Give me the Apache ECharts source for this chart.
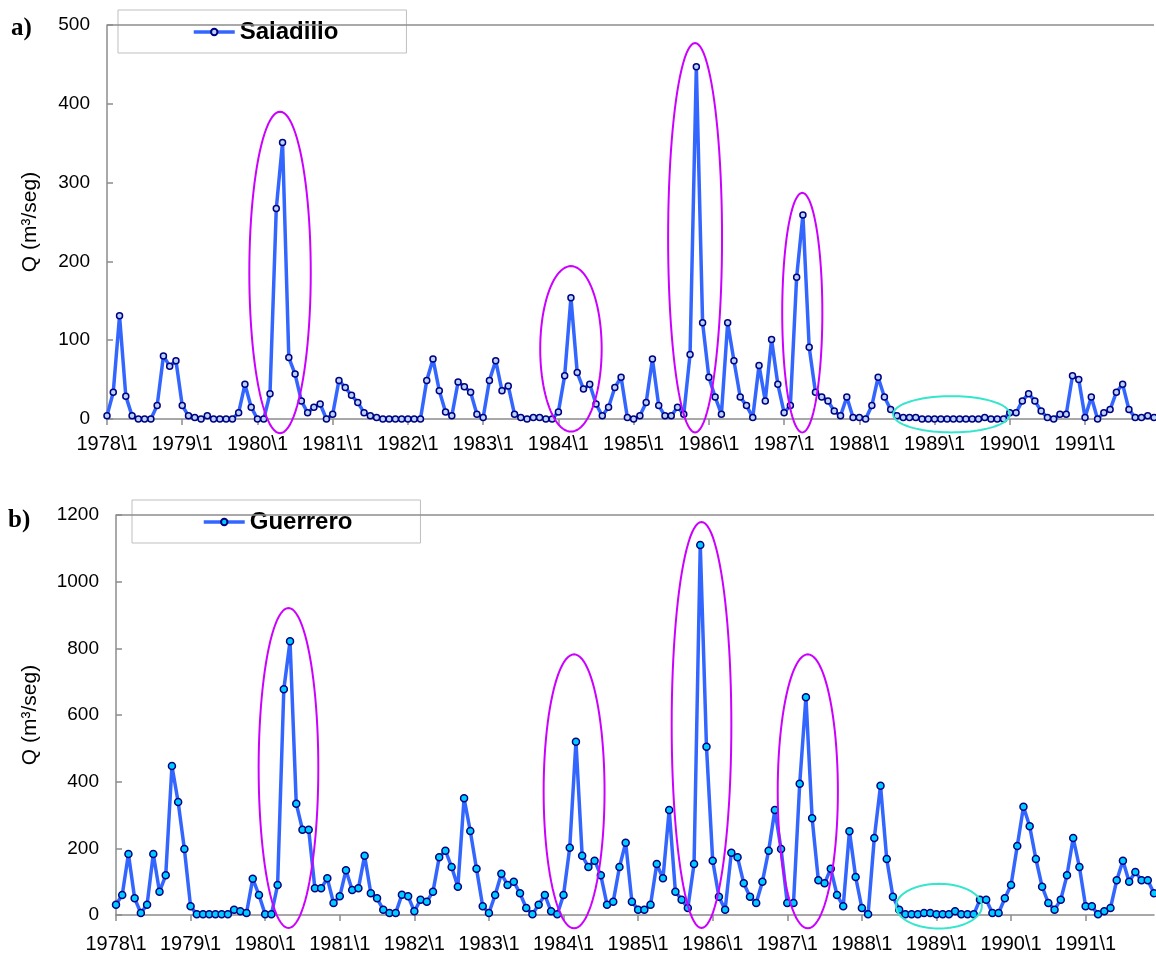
<!DOCTYPE html>
<html>
<head>
<meta charset="utf-8">
<script src="https://cdn.jsdelivr.net/npm/echarts@6/dist/echarts.min.js"></script>
<style>
html, body { margin: 0; padding: 0; background: #fff; }
#chart { width: 1156px; height: 960px; }
</style>
</head>
<body>
<div id="chart"></div>
<script>
// etiquetas de eje (una por año, cada 12 meses)
var yearLabels = ['1978\\1', '1979\\1', '1980\\1', '1981\\1', '1982\\1', '1983\\1', '1984\\1',
	'1985\\1', '1986\\1', '1987\\1', '1988\\1', '1989\\1', '1990\\1', '1991\\1'];

// caudal mensual Saladillo (m3/seg), ene-1978 .. dic-1991
var saladillo = [
	4, 34, 131, 29, 4, 0, 0, 0, 17, 80, 67, 74,
	17, 4, 2, 0, 4, 0, 0, 0, 0, 8, 44, 15,
	0, 0, 32, 267, 351, 78, 57, 23, 8, 15, 19, 0,
	6, 49, 40, 30, 21, 8, 4, 2, 0, 0, 0, 0,
	0, 0, 0, 49, 76, 36, 9, 4, 47, 41, 34, 6,
	2, 49, 74, 36, 42, 6, 2, 0, 2, 2, 0, 0,
	9, 55, 154, 59, 38, 44, 19, 4, 15, 40, 53, 2,
	0, 4, 21, 76, 17, 4, 4, 15, 6, 82, 447, 122,
	53, 28, 6, 122, 74, 28, 17, 2, 68, 23, 101, 44,
	8, 17, 180, 259, 91, 34, 28, 23, 10, 4, 28, 2,
	2, 0, 17, 53, 28, 12, 4, 2, 2, 2, 0, 0,
	0, 0, 0, 0, 0, 0, 0, 0, 2, 0, 0, 0,
	8, 8, 23, 32, 23, 10, 2, 0, 6, 6, 55, 50,
	2, 28, 0, 8, 12, 34, 44, 12, 2, 2, 4, 2
];

// caudal mensual Guerrero (m3/seg)
var guerrero = [
	31, 60, 183, 50, 6, 31, 183, 70, 119, 447, 339, 198,
	26, 2, 2, 2, 2, 2, 2, 16, 11, 6, 109, 60,
	2, 2, 90, 677, 821, 334, 256, 256, 80, 80, 110, 36,
	56, 134, 75, 80, 178, 65, 50, 16, 6, 6, 61, 56,
	11, 46, 40, 70, 173, 193, 144, 85, 350, 252, 139, 26,
	6, 60, 124, 90, 100, 65, 21, 2, 31, 60, 11, 2,
	60, 202, 520, 178, 144, 163, 119, 31, 40, 144, 217, 40,
	16, 16, 31, 153, 110, 315, 70, 46, 21, 153, 1110, 505,
	163, 55, 16, 187, 173, 95, 55, 36, 100, 193, 315, 198,
	36, 36, 394, 653, 290, 104, 95, 139, 60, 26, 251, 114,
	21, 2, 231, 388, 168, 55, 16, 2, 2, 2, 6, 6,
	2, 2, 2, 11, 2, 2, 2, 46, 46, 6, 6, 50,
	90, 207, 325, 266, 168, 85, 36, 16, 46, 119, 231, 144,
	26, 26, 2, 11, 21, 104, 163, 100, 129, 104, 104, 65
];

// elipses de resalte: [mes centro, valor centro, semi-ancho (meses), semi-alto (valor)]
var peaksA = [[27.6, 186, 4.9, 204], [74.0, 89, 4.9, 105], [93.8, 230, 4.3, 247], [110.9, 135, 3.2, 152]];
var dryA = [[134.7, 6, 9.3, 23]];
var peaksB = [[27.75, 441, 4.8, 480], [73.7, 371, 4.9, 411], [94.2, 570, 4.8, 609], [111.3, 371, 4.84, 411]];
var dryB = [[132.4, 26.5, 6.9, 67]];

var font = 'Liberation Sans, Arial, sans-serif';

function toPairs(arr) {
	var out = [];
	for (var i = 0; i < arr.length; i++) {
		out.push([i, arr[i]]);
	}
	return out;
}

// dibuja una elipse en coordenadas de datos
function ellipseItem(params, api) {
	var c = api.coord([api.value(0), api.value(1)]);
	var s = api.size([api.value(2), api.value(3)]);
	var pts = [];
	for (var k = 0; k < 96; k++) {
		var a = k / 96 * Math.PI * 2;
		pts.push([c[0] + s[0] * Math.cos(a), c[1] + s[1] * Math.sin(a)]);
	}
	return {
		type: 'polygon',
		shape: { points: pts },
		style: { fill: null, stroke: api.visual('color'), lineWidth: 2 }
	};
}

function xAxisFor(gridIndex, margin) {
	return {
		gridIndex: gridIndex,
		type: 'value',
		min: 0,
		max: 167,
		interval: 12,
		axisLine: { lineStyle: { color: '#8c8c8c', width: 1.5 } },
		axisTick: { inside: false, length: 6, lineStyle: { color: '#8c8c8c', width: 1.5 } },
		splitLine: { show: false },
		axisLabel: {
			margin: margin,
			color: '#000',
			fontSize: 20,
			fontFamily: font,
			showMaxLabel: false,
			formatter: function (v) {
				return v % 12 === 0 ? yearLabels[v / 12] : '';
			}
		}
	};
}

function yAxisFor(gridIndex, max, interval, nameGap) {
	return {
		gridIndex: gridIndex,
		type: 'value',
		min: 0,
		max: max,
		interval: interval,
		name: 'Q (m³/seg)',
		nameLocation: 'middle',
		nameGap: nameGap,
		nameTextStyle: { color: '#000', fontSize: 21, fontFamily: font },
		axisLine: { show: true, lineStyle: { color: '#8c8c8c', width: 1.5 } },
		axisTick: { show: true, inside: true, length: 6, lineStyle: { color: '#8c8c8c', width: 1.5 } },
		splitLine: { show: false },
		axisLabel: {
			margin: 17, color: '#000', fontSize: 19, fontFamily: font,
			formatter: function (v) { return String(v); }
		}
	};
}

function lineSeries(name, idx, data, fill, size, max) {
	return {
		name: name,
		type: 'line',
		xAxisIndex: idx,
		yAxisIndex: idx,
		data: toPairs(data),
		symbol: 'circle',
		symbolSize: size,
		showAllSymbol: true,
		lineStyle: { color: '#3366ff', width: 3.5 },
		itemStyle: { color: fill, borderColor: '#000080', borderWidth: 1.5 },
		z: 2,
		// borde superior del área de trazado
		markLine: {
			silent: true,
			symbol: 'none',
			label: { show: false },
			lineStyle: { color: '#8c8c8c', width: 1.5, type: 'solid' },
			data: [{ yAxis: max }]
		}
	};
}

function ellipseSeries(idx, data, color) {
	return {
		type: 'custom',
		xAxisIndex: idx,
		yAxisIndex: idx,
		data: data,
		renderItem: ellipseItem,
		itemStyle: { color: color },
		silent: true,
		clip: false,
		z: 3
	};
}

var legendText = { fontFamily: font, fontWeight: 'bold', fontSize: 24, color: '#000' };

var option = {
	animation: false,
	backgroundColor: '#fff',
	title: [
		{ text: 'a)', left: 11, top: 16, padding: 0,
			textStyle: { fontFamily: 'Liberation Serif, Times New Roman, serif', fontWeight: 'bold', fontSize: 25, color: '#000' } },
		{ text: 'b)', left: 8, top: 508, padding: 0,
			textStyle: { fontFamily: 'Liberation Serif, Times New Roman, serif', fontWeight: 'bold', fontSize: 25, color: '#000' } }
	],
	legend: [
		{
			data: ['Saladillo'], left: 118, top: 10,
			padding: [10, 68, 9, 74], itemWidth: 41, itemHeight: 8, itemGap: 0,
			lineStyle: { width: 3.5 },
			backgroundColor: '#fff', borderColor: '#bfbfbf', borderWidth: 1,
			textStyle: legendText
		},
		{
			data: ['Guerrero'], left: 132, top: 500,
			padding: [10, 68, 9, 70], itemWidth: 41, itemHeight: 8, itemGap: 0,
			lineStyle: { width: 3.5 },
			backgroundColor: '#fff', borderColor: '#bfbfbf', borderWidth: 1,
			textStyle: legendText
		}
	],
	grid: [
		{ left: 107, right: 2, top: 25, height: 394 },
		{ left: 116, right: 2, top: 515, height: 400 }
	],
	xAxis: [xAxisFor(0, 15), xAxisFor(1, 19)],
	yAxis: [yAxisFor(0, 500, 100, 66), yAxisFor(1, 1200, 200, 75)],
	series: [
		lineSeries('Saladillo', 0, saladillo, '#b8d4ff', 6, 500),
		lineSeries('Guerrero', 1, guerrero, '#00ccff', 7, 1200),
		ellipseSeries(0, peaksA, '#cc00ff'),
		ellipseSeries(0, dryA, '#33e6cc'),
		ellipseSeries(1, peaksB, '#cc00ff'),
		ellipseSeries(1, dryB, '#33e6cc')
	]
};

var chart = echarts.init(document.getElementById('chart'));
chart.setOption(option);
</script>
</body>
</html>
